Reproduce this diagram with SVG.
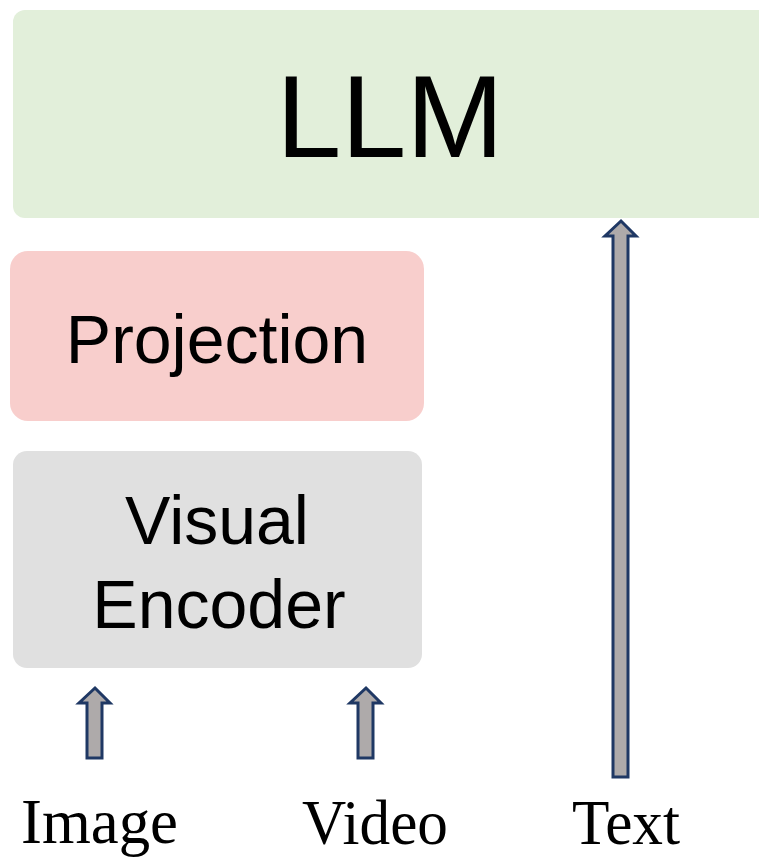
<svg xmlns="http://www.w3.org/2000/svg" width="759" height="858" viewBox="0 0 759 858">
<style>
.box-text{font-family:"Liberation Sans",Arial,sans-serif;fill:#000;text-anchor:middle}
.label{font-family:"Liberation Serif","Times New Roman",serif;font-size:63px;fill:#000}
.arrow{fill:#aeaaaa;stroke:#1f3864;stroke-width:3;stroke-linejoin:miter}
</style>
<rect width="759" height="858" fill="#ffffff"/>
<g id="llm">
<rect x="13" y="10" width="770" height="208" rx="12" fill="#e2efda"/>
<text class="box-text" x="390" y="157" font-size="117">LLM</text>
</g>
<g id="projection">
<rect x="10" y="251" width="414" height="170" rx="18" fill="#f8cecc"/>
<text class="box-text" x="217" y="363" font-size="68">Projection</text>
</g>
<g id="visual-encoder">
<rect x="13" y="451" width="409" height="217" rx="14" fill="#e0e0e0"/>
<text class="box-text" x="217" y="544" font-size="68">Visual</text>
<text class="box-text" x="219" y="628" font-size="68">Encoder</text>
</g>
<g id="connectors">
<polygon class="arrow" points="87,758 87,703 79,703 95,688 110,703 102,703 102,758"/>
<polygon class="arrow" points="358,758 358,703 350,703 366,688 381,703 373,703 373,758"/>
<polygon class="arrow" points="613,777 613,236 605,236 621,221 636,236 628,236 628,777"/>
</g>
<g id="label-image"><text class="label" x="21" y="843" textLength="157" lengthAdjust="spacingAndGlyphs">Image</text></g>
<g id="label-video"><text class="label" x="302" y="844" textLength="146" lengthAdjust="spacingAndGlyphs">Video</text></g>
<g id="label-text"><text class="label" x="572" y="844" textLength="108" lengthAdjust="spacingAndGlyphs">Text</text></g>
</svg>
